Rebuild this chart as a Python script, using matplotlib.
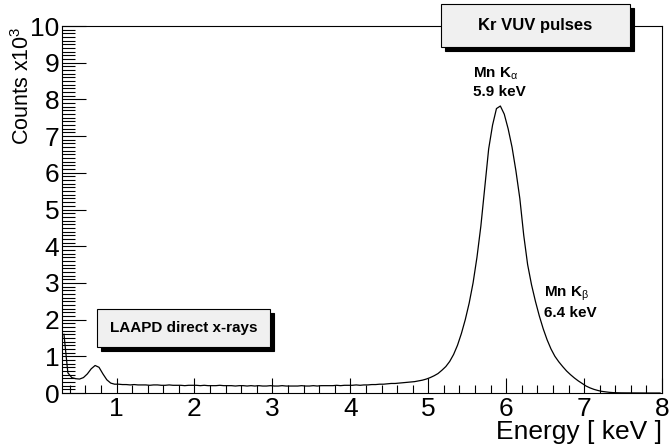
import matplotlib
matplotlib.use("Agg")
import matplotlib.pyplot as plt
from matplotlib.patches import Rectangle
import numpy as np

plt.rcParams['font.family'] = ['Liberation Sans', 'DejaVu Sans']
plt.rcParams['mathtext.fontset'] = 'custom'
plt.rcParams['mathtext.rm'] = 'Liberation Sans'
plt.rcParams['mathtext.it'] = 'Liberation Sans:italic'
plt.rcParams['mathtext.bf'] = 'Liberation Sans:bold'

# spectrum, 0.05 keV bins from 0.3 to 8 keV, counts in units of 10^3
E_START = 0.3
BIN_W = 0.05
COUNTS = [
    1.6, 0.55, 0.42, 0.39, 0.38, 0.42, 0.52, 0.66, 0.75, 0.70, 0.52, 0.36, 0.27, 0.24,
    # 1 - 2 keV
    0.24, 0.23, 0.23, 0.22, 0.23, 0.22, 0.22, 0.22, 0.21, 0.22,
    0.22, 0.21, 0.21, 0.22, 0.21, 0.21, 0.21, 0.20, 0.21, 0.21,
    # 2 - 3 keV
    0.21, 0.20, 0.21, 0.20, 0.20, 0.20, 0.21, 0.20, 0.20, 0.20,
    0.19, 0.20, 0.20, 0.19, 0.20, 0.19, 0.20, 0.19, 0.19, 0.20,
    # 3 - 4 keV
    0.19, 0.19, 0.20, 0.19, 0.19, 0.19, 0.19, 0.20, 0.19, 0.19,
    0.20, 0.19, 0.20, 0.20, 0.20, 0.20, 0.21, 0.20, 0.21, 0.21,
    # 4 - 4.8 keV
    0.21, 0.22, 0.21, 0.22, 0.22, 0.23, 0.23, 0.24, 0.24, 0.25,
    0.26, 0.26, 0.27, 0.28, 0.29, 0.30,
    # Mn K peak
    0.31, 0.33, 0.35, 0.38, 0.42, 0.47, 0.53, 0.62, 0.72, 0.86,
    1.05, 1.3, 1.62, 2.0, 2.45, 3.0, 3.7, 4.55, 5.6, 6.65,
    7.3, 7.75, 7.82, 7.6, 7.2, 6.7, 6.05, 5.3, 4.3, 3.5,
    2.95, 2.5, 2.1, 1.75, 1.45, 1.2, 1.0, 0.85, 0.72, 0.6,
    0.5, 0.41, 0.33, 0.26, 0.19, 0.14, 0.1, 0.07, 0.045, 0.03,
    0.018, 0.01, 0.006, 0.004,
    # tail
    0.003, 0.002, 0.002, 0.001, 0.001, 0.001, 0.0, 0.0, 0.0, 0.0,
]

BOX_TOP = "Kr VUV pulses"
BOX_LOW = "LAAPD direct x-rays"

counts = np.array(COUNTS)
centers = E_START + BIN_W * (np.arange(len(counts)) + 0.5)

fig = plt.figure(figsize=(6.69, 4.47), dpi=100)
ax = fig.add_axes([0.0927, 0.1208, 0.8969, 0.821])

ax.plot(centers, counts, color='black', lw=0.9)

ax.set_xlim(0.3, 8)
ax.set_ylim(0, 10)
ax.set_xticks(np.arange(1, 9))
ax.set_xticks(np.arange(0.4, 8.01, 0.2), minor=True)
ax.set_yticks(np.arange(0, 11))
ax.set_yticks(np.arange(0, 10.01, 0.1), minor=True)
ax.tick_params(axis='both', which='both', direction='in', width=0.8, labelsize=19)
ax.tick_params(axis='x', which='major', length=11, pad=3)
ax.tick_params(axis='x', which='minor', length=6)
ax.tick_params(axis='y', which='major', length=17, pad=2)
ax.tick_params(axis='y', which='minor', length=9)
for s in ax.spines.values():
    s.set_linewidth(0.8)

ax.set_xlabel('Energy [ keV ]', fontsize=19, loc='right', labelpad=-1)
ax.set_ylabel(r'Counts x10$^3$', fontsize=15.5, loc='top', labelpad=-3)

ax.text(5.57, 8.02, r'Mn K$_{\mathrm{α}}$' + '\n5.9 keV', fontsize=11, fontweight='bold',
        va='bottom', ha='left', linespacing=1.25)
ax.text(6.48, 1.99, r'Mn K$_{\mathrm{β}}$' + '\n6.4 keV', fontsize=11, fontweight='bold',
        va='bottom', ha='left', linespacing=1.25)


def shadow_box(x, y, w, h, label, size):
    off_x, off_y = 4 / 669, 4 / 447
    fig.patches.append(Rectangle((x + off_x, y - off_y), w, h, transform=fig.transFigure,
                                 facecolor='black', edgecolor='black', lw=0.8, zorder=5))
    fig.patches.append(Rectangle((x, y), w, h, transform=fig.transFigure,
                                 facecolor='#f0f0f0', edgecolor='black', lw=0.8, zorder=6))
    fig.text(x + w / 2, y + h / 2, label, ha='center', va='center', fontsize=size,
             fontweight='bold', zorder=7)


shadow_box(0.659, 0.895, 0.2825, 0.0962, BOX_TOP, 12)
shadow_box(0.145, 0.2237, 0.2586, 0.085, BOX_LOW, 11)

fig.savefig('out.png', dpi=100)
